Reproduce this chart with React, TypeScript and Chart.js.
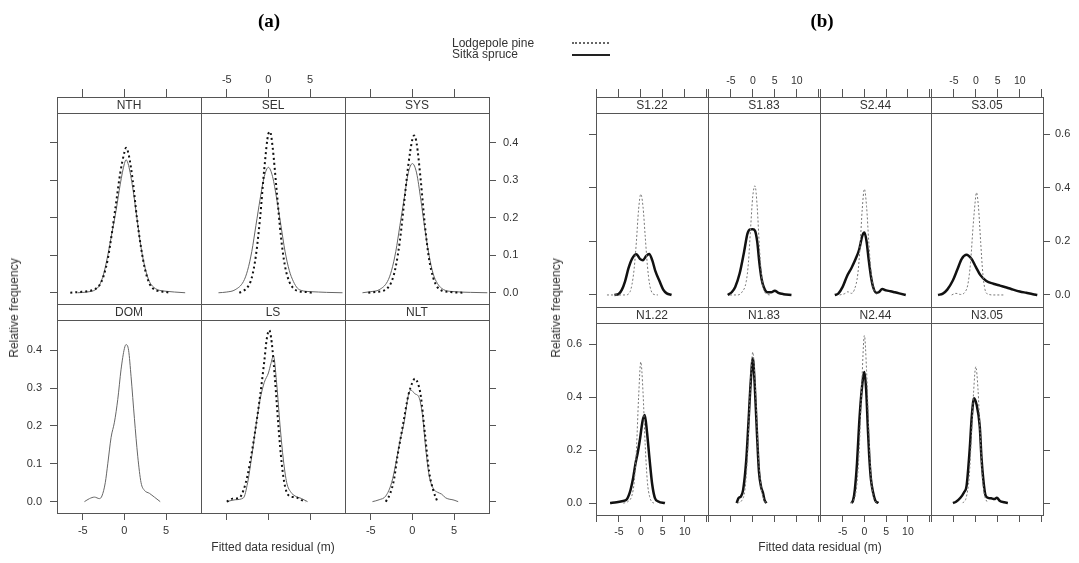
import React, { useEffect, useRef } from 'react';
import { Chart, registerables } from 'chart.js';

Chart.register(...registerables);

type Pt = [number, number];

// ---------------- (a) data: [residual, relative frequency] ----------------
const NTH_LP: Pt[] = [[-6.5,0],[-5.5,0.002],[-4.5,0.004],[-3.5,0.01],[-3,0.02],[-2.5,0.045],[-2,0.09],[-1.5,0.16],[-1,0.24],[-0.5,0.32],[0,0.375],[0.2,0.387],[0.5,0.37],[1,0.3],[1.5,0.2],[2,0.12],[2.5,0.06],[3,0.025],[3.5,0.01],[4,0.005],[5,0.002],[5.5,0]];
const NTH_SS: Pt[] = [[-5.6,0],[-4.5,0.002],[-3.5,0.008],[-3,0.02],[-2.5,0.05],[-2,0.1],[-1.5,0.16],[-1,0.22],[-0.5,0.29],[0,0.345],[0.2,0.355],[0.5,0.34],[1,0.28],[1.5,0.2],[2,0.12],[2.5,0.065],[3,0.03],[3.5,0.015],[4,0.008],[5,0.004],[6,0.002],[7.3,0]];
const SEL_LP: Pt[] = [[-3.5,0],[-3,0.005],[-2.5,0.015],[-2,0.04],[-1.5,0.1],[-1,0.2],[-0.5,0.33],[0,0.425],[0.2,0.43],[0.5,0.39],[1,0.27],[1.5,0.15],[2,0.07],[2.5,0.03],[3,0.012],[3.5,0.005],[4.5,0.002],[5.3,0]];
const SEL_SS: Pt[] = [[-6,0],[-5,0.002],[-4,0.008],[-3,0.03],[-2.5,0.06],[-2,0.11],[-1.5,0.18],[-1,0.25],[-0.5,0.31],[0,0.335],[0.5,0.31],[1,0.25],[1.5,0.18],[2,0.11],[2.5,0.06],[3,0.03],[3.5,0.012],[4,0.006],[5,0.003],[6,0.002],[7,0.001],[8.9,0]];
const SYS_LP: Pt[] = [[-5.3,0],[-4.5,0.002],[-3.5,0.005],[-3,0.012],[-2.5,0.03],[-2,0.07],[-1.5,0.14],[-1,0.24],[-0.5,0.34],[0,0.41],[0.2,0.42],[0.5,0.4],[1,0.3],[1.5,0.18],[2,0.09],[2.5,0.04],[3,0.015],[3.5,0.006],[4.5,0.002],[6.3,0]];
const SYS_SS: Pt[] = [[-6,0],[-5,0.003],[-4,0.008],[-3,0.03],[-2.5,0.06],[-2,0.11],[-1.5,0.18],[-1,0.25],[-0.5,0.32],[0,0.345],[0.5,0.32],[1,0.25],[1.5,0.17],[2,0.1],[2.5,0.05],[3,0.025],[3.5,0.012],[4,0.006],[5,0.003],[7,0.001],[9,0]];
const DOM_SS: Pt[] = [[-4.8,0],[-4.2,0.008],[-3.6,0.012],[-3,0.008],[-2.7,0.015],[-2.3,0.05],[-2,0.1],[-1.6,0.17],[-1.2,0.21],[-0.8,0.27],[-0.4,0.35],[0,0.405],[0.2,0.415],[0.5,0.4],[0.8,0.33],[1.2,0.22],[1.6,0.12],[2,0.05],[2.4,0.03],[3,0.022],[3.6,0.012],[4.3,0]];
const LS_LP: Pt[] = [[-5,0],[-4.3,0.008],[-3.5,0.01],[-3,0.03],[-2.5,0.07],[-2,0.13],[-1.5,0.2],[-1,0.28],[-0.5,0.37],[-0.2,0.43],[0.1,0.453],[0.4,0.42],[0.8,0.32],[1.2,0.2],[1.6,0.1],[2,0.04],[2.5,0.015],[3,0.012],[3.5,0.01],[4,0.004],[4.5,0]];
const LS_SS: Pt[] = [[-5,0],[-4,0.005],[-3,0.01],[-2.5,0.05],[-2,0.12],[-1.5,0.2],[-1,0.27],[-0.5,0.315],[0,0.34],[0.3,0.365],[0.6,0.385],[1,0.31],[1.4,0.2],[1.8,0.11],[2.2,0.05],[2.7,0.025],[3.2,0.015],[4,0.008],[4.7,0]];
const NLT_LP: Pt[] = [[-3.2,0],[-2.7,0.02],[-2.2,0.06],[-1.8,0.12],[-1.4,0.17],[-1,0.22],[-0.5,0.28],[0,0.315],[0.3,0.325],[0.7,0.31],[1,0.28],[1.5,0.18],[2,0.08],[2.5,0.03],[3,0]];
const NLT_SS: Pt[] = [[-4.8,0],[-4,0.005],[-3.2,0.015],[-2.5,0.05],[-2,0.1],[-1.5,0.16],[-1,0.21],[-0.5,0.28],[-0.2,0.295],[0.3,0.285],[0.8,0.275],[1.2,0.23],[1.6,0.14],[2,0.07],[2.5,0.035],[3,0.025],[3.5,0.02],[4,0.01],[5,0.004],[5.5,0]];

// ---------------- (b) data ----------------
const S122_LP: Pt[] = [[-7.7,0],[-3.5,0],[-2.5,0.01],[-2,0.04],[-1.5,0.1],[-1,0.2],[-0.5,0.32],[0,0.377],[0.5,0.33],[1,0.22],[1.5,0.11],[2,0.04],[2.5,0.01],[3,0.002],[3.9,0]];
const S122_SS: Pt[] = [[-6,0],[-5,0.004],[-4.3,0.02],[-3.6,0.05],[-2.8,0.1],[-2,0.135],[-1,0.152],[-0.2,0.135],[0.5,0.13],[1.2,0.145],[1.9,0.153],[2.6,0.13],[3.3,0.09],[4.3,0.05],[5.1,0.02],[5.9,0.006],[7,0]];
const S183_LP: Pt[] = [[-5.2,0],[-3.5,0],[-2.5,0.01],[-1.5,0.05],[-1,0.12],[-0.5,0.25],[0,0.37],[0.5,0.408],[1,0.33],[1.5,0.18],[2,0.07],[2.5,0.02],[3,0.005],[3.9,0]];
const S183_SS: Pt[] = [[-5.7,0],[-4.8,0.01],[-4,0.03],[-3,0.08],[-2,0.16],[-1.2,0.23],[-0.6,0.245],[0,0.246],[0.5,0.24],[1,0.2],[1.5,0.12],[2,0.06],[2.6,0.025],[3.3,0.01],[4.2,0.01],[5,0.016],[5.8,0.008],[7,0.003],[8.8,0]];
const S244_LP: Pt[] = [[-5.7,0],[-4.5,0.005],[-3.8,0.012],[-3,0.006],[-2.3,0.02],[-1.5,0.08],[-1,0.18],[-0.5,0.32],[0,0.396],[0.5,0.33],[1,0.2],[1.5,0.09],[2,0.03],[2.5,0.008],[3,0]];
const S244_SS: Pt[] = [[-6.8,0],[-6,0.005],[-5,0.03],[-4,0.07],[-3,0.1],[-2,0.135],[-1.2,0.17],[-0.5,0.22],[0,0.233],[0.5,0.2],[1,0.13],[1.5,0.07],[2,0.03],[2.7,0.008],[3.3,0.01],[4.1,0.022],[5,0.017],[6,0.014],[7,0.01],[8,0.006],[9.5,0]];
const S305_LP: Pt[] = [[-5.5,0],[-4.5,0.006],[-3.5,0.002],[-2.5,0.01],[-1.8,0.04],[-1.2,0.12],[-0.6,0.26],[0,0.37],[0.15,0.383],[0.6,0.33],[1.1,0.2],[1.6,0.08],[2.1,0.02],[2.8,0.003],[4,0],[6.6,0]];
const S305_SS: Pt[] = [[-8.6,0],[-7.5,0.005],[-6.5,0.02],[-5.2,0.055],[-4.2,0.095],[-3.2,0.135],[-2.1,0.15],[-1,0.135],[0,0.105],[1,0.075],[2.4,0.052],[4,0.042],[5.5,0.035],[7,0.028],[8.5,0.02],[10,0.013],[11.5,0.008],[13,0.003],[14,0]];
const N122_LP: Pt[] = [[-4,0],[-3,0.005],[-2,0.03],[-1.5,0.08],[-1,0.2],[-0.5,0.4],[0,0.533],[0.5,0.42],[1,0.22],[1.5,0.08],[2,0.025],[2.5,0.005],[3,0]];
const N122_SS: Pt[] = [[-7,0],[-5.5,0.003],[-4,0.008],[-3.3,0.012],[-2.5,0.04],[-1.8,0.09],[-1.2,0.15],[-0.7,0.19],[-0.2,0.24],[0.4,0.31],[0.9,0.333],[1.4,0.27],[2,0.165],[2.6,0.07],[3.2,0.02],[4,0.006],[5.5,0]];
const N183_LP: Pt[] = [[-3.5,0],[-2.5,0.01],[-1.8,0.05],[-1.2,0.18],[-0.6,0.42],[0,0.57],[0.6,0.43],[1.2,0.2],[1.8,0.07],[2.4,0.02],[3,0]];
const N183_SS: Pt[] = [[-3.7,0],[-3.2,0.02],[-2.7,0.025],[-2.2,0.05],[-1.5,0.16],[-1,0.3],[-0.5,0.45],[0,0.547],[0.4,0.46],[0.9,0.28],[1.4,0.12],[1.9,0.06],[2.3,0.04],[2.7,0.01],[3.1,0]];
const N244_LP: Pt[] = [[-3.2,0],[-2.5,0.01],[-1.8,0.06],[-1.2,0.2],[-0.6,0.45],[0,0.633],[0.5,0.5],[1,0.28],[1.5,0.1],[2,0.03],[2.6,0.005],[3.2,0]];
const N244_SS: Pt[] = [[-3,0],[-2.6,0.01],[-2.2,0.05],[-1.7,0.15],[-1.2,0.3],[-0.6,0.43],[0,0.495],[0.4,0.43],[0.8,0.28],[1.1,0.18],[1.5,0.09],[2,0.04],[2.5,0.01],[3.2,0]];
const N305_LP: Pt[] = [[-3,0],[-2.2,0.02],[-1.5,0.1],[-1,0.25],[-0.5,0.42],[0,0.515],[0.5,0.43],[1,0.26],[1.5,0.1],[2,0.03],[2.7,0]];
const N305_SS: Pt[] = [[-5.2,0],[-4.5,0.005],[-3.5,0.02],[-2.7,0.04],[-2.1,0.065],[-1.4,0.2],[-0.9,0.33],[-0.4,0.396],[0.2,0.37],[0.9,0.29],[1.3,0.17],[1.7,0.09],[2.2,0.03],[2.8,0.02],[3.5,0.018],[4.2,0.015],[4.8,0.02],[5.5,0.008],[6.5,0.003],[7.3,0]];

// ---------------- scales / tick labels ----------------
const A_X_RANGE = [-8.1, 9.2];
const A_Y_RANGE = [-0.03, 0.48];
const A_X_STEP = 5;
const A_Y_STEP = 0.1;
const A_X_LABELS = [-5, 0, 5];
const B_X_RANGE = [-10.2, 15.3];
const B_Y_RANGE = [-0.045, 0.68];
const B_X_STEP = 5;
const B_Y_STEP = 0.2;
const B_X_LABELS = [-5, 0, 5, 10];

const SERIES_NAMES = ['Lodgepole pine', 'Sitka spruce'];

// ---------------- layout ----------------
const W = 1079;
const H = 563;
const STRIP = 16;
const A_COLS = [57, 201, 345, 489];
const A_ROWS = [[113, 304], [320, 513]];
const B_COLS = [596, 708, 820, 931, 1043];
const B_ROWS = [[113, 307], [323, 515]];
const FONT = '"Liberation Sans", Arial, Helvetica, sans-serif';
const TEXT = '#333';
const LINE = '#555';

type Side = 'top' | 'bottom' | 'left' | 'right' | null;
interface Panel {
  name: string;
  lp: Pt[] | null;
  ss: Pt[];
  fig: 'a' | 'b';
  col: number;
  row: number;
  xAxis: Side;
  xLab: boolean;
  yAxis: Side;
  yLab: boolean;
}

const PANELS: Panel[] = [
  { name: 'NTH', lp: NTH_LP, ss: NTH_SS, fig: 'a', col: 0, row: 0, xAxis: 'top', xLab: false, yAxis: 'left', yLab: false },
  { name: 'SEL', lp: SEL_LP, ss: SEL_SS, fig: 'a', col: 1, row: 0, xAxis: 'top', xLab: true, yAxis: null, yLab: false },
  { name: 'SYS', lp: SYS_LP, ss: SYS_SS, fig: 'a', col: 2, row: 0, xAxis: 'top', xLab: false, yAxis: 'right', yLab: true },
  { name: 'DOM', lp: null, ss: DOM_SS, fig: 'a', col: 0, row: 1, xAxis: 'bottom', xLab: true, yAxis: 'left', yLab: true },
  { name: 'LS', lp: LS_LP, ss: LS_SS, fig: 'a', col: 1, row: 1, xAxis: 'bottom', xLab: false, yAxis: null, yLab: false },
  { name: 'NLT', lp: NLT_LP, ss: NLT_SS, fig: 'a', col: 2, row: 1, xAxis: 'bottom', xLab: true, yAxis: 'right', yLab: false },
  { name: 'S1.22', lp: S122_LP, ss: S122_SS, fig: 'b', col: 0, row: 0, xAxis: 'top', xLab: false, yAxis: 'left', yLab: false },
  { name: 'S1.83', lp: S183_LP, ss: S183_SS, fig: 'b', col: 1, row: 0, xAxis: 'top', xLab: true, yAxis: null, yLab: false },
  { name: 'S2.44', lp: S244_LP, ss: S244_SS, fig: 'b', col: 2, row: 0, xAxis: 'top', xLab: false, yAxis: null, yLab: false },
  { name: 'S3.05', lp: S305_LP, ss: S305_SS, fig: 'b', col: 3, row: 0, xAxis: 'top', xLab: true, yAxis: 'right', yLab: true },
  { name: 'N1.22', lp: N122_LP, ss: N122_SS, fig: 'b', col: 0, row: 1, xAxis: 'bottom', xLab: true, yAxis: 'left', yLab: true },
  { name: 'N1.83', lp: N183_LP, ss: N183_SS, fig: 'b', col: 1, row: 1, xAxis: 'bottom', xLab: false, yAxis: null, yLab: false },
  { name: 'N2.44', lp: N244_LP, ss: N244_SS, fig: 'b', col: 2, row: 1, xAxis: 'bottom', xLab: true, yAxis: null, yLab: false },
  { name: 'N3.05', lp: N305_LP, ss: N305_SS, fig: 'b', col: 3, row: 1, xAxis: 'bottom', xLab: false, yAxis: 'right', yLab: false },
];

const AX_TOP = 44;
const AX_BOTTOM = 34;
const AX_SIDE = 44;

function makeChart(canvas: HTMLCanvasElement, p: Panel) {
  const isA = p.fig === 'a';
  const cols = isA ? A_COLS : B_COLS;
  const rows = isA ? A_ROWS : B_ROWS;
  const left = cols[p.col];
  const right = cols[p.col + 1];
  const top = rows[p.row][0];
  const bottom = rows[p.row][1];
  const xr = isA ? A_X_RANGE : B_X_RANGE;
  const yr = isA ? A_Y_RANGE : B_Y_RANGE;
  const xLabels = isA ? A_X_LABELS : B_X_LABELS;

  const lpStyle = isA
    ? { borderColor: '#111', borderWidth: 2, borderDash: [2, 3] }
    : { borderColor: '#777', borderWidth: 1, borderDash: [2, 2] };
  const ssStyle = isA
    ? { borderColor: '#666', borderWidth: 1 }
    : { borderColor: '#111', borderWidth: 2.5 };

  const datasets: any[] = [];
  if (p.lp) {
    datasets.push({ label: SERIES_NAMES[0], data: p.lp.map(([x, y]) => ({ x, y })), ...lpStyle, cubicInterpolationMode: 'monotone', pointRadius: 0, fill: false });
  }
  datasets.push({ label: SERIES_NAMES[1], data: p.ss.map(([x, y]) => ({ x, y })), ...ssStyle, cubicInterpolationMode: 'monotone', pointRadius: 0, fill: false });

  const padding = {
    left: left - (p.yAxis === 'left' ? AX_SIDE : 0),
    right: W - right - (p.yAxis === 'right' ? AX_SIDE : 0),
    top: top - (p.xAxis === 'top' ? AX_TOP : 0),
    bottom: H - bottom - (p.xAxis === 'bottom' ? AX_BOTTOM : 0),
  };

  const xTickFont = { family: FONT, size: isA ? 11 : 10.5 };
  const yTickFont = { family: FONT, size: 11 };

  const stripPlugin = {
    id: 'strip' + p.name,
    afterDraw(chart: any) {
      const { ctx, chartArea: a } = chart;
      ctx.save();
      ctx.fillStyle = '#fff';
      ctx.fillRect(a.left, a.top - STRIP, a.right - a.left, STRIP);
      ctx.strokeStyle = LINE;
      ctx.lineWidth = 1;
      ctx.strokeRect(Math.round(a.left) + 0.5, Math.round(a.top - STRIP) + 0.5, Math.round(a.right - a.left), STRIP);
      ctx.strokeRect(Math.round(a.left) + 0.5, Math.round(a.top) + 0.5, Math.round(a.right - a.left), Math.round(a.bottom - a.top));
      ctx.fillStyle = TEXT;
      ctx.font = `12px ${FONT}`;
      ctx.textAlign = 'center';
      ctx.textBaseline = 'middle';
      ctx.fillText(p.name, (a.left + a.right) / 2, a.top - STRIP / 2 + 0.5);
      ctx.restore();
    },
  };

  return new Chart(canvas, {
    type: 'line',
    data: { datasets },
    options: {
      responsive: false,
      animation: false,
      events: [],
      layout: { padding },
      plugins: { legend: { display: false }, tooltip: { enabled: false }, title: { display: false } },
      scales: {
        x: {
          type: 'linear',
          min: xr[0],
          max: xr[1],
          display: p.xAxis !== null,
          position: p.xAxis === 'top' ? 'top' : 'bottom',
          grid: { drawOnChartArea: false, drawTicks: true, tickLength: p.xAxis === 'top' ? STRIP + 8 : 7, color: LINE, lineWidth: 1 },
          border: { display: false },
          ticks: {
            display: p.xLab,
            stepSize: isA ? A_X_STEP : B_X_STEP,
            includeBounds: false,
            autoSkip: false,
            maxRotation: 0,
            minRotation: 0,
            padding: p.xAxis === 'top' ? 2 : 4,
            font: xTickFont,
            color: TEXT,
            callback: (v: any) => (xLabels.includes(Math.round(Number(v) * 1000) / 1000) ? String(v) : ''),
          },
          afterFit: (s: any) => { s.height = p.xAxis === null ? 0 : p.xAxis === 'top' ? AX_TOP : AX_BOTTOM; },
        },
        y: {
          type: 'linear',
          min: yr[0],
          max: yr[1],
          display: p.yAxis !== null,
          position: p.yAxis === 'right' ? 'right' : 'left',
          grid: { drawOnChartArea: false, drawTicks: true, tickLength: 7, color: LINE, lineWidth: 1 },
          border: { display: false },
          ticks: {
            display: p.yLab,
            stepSize: isA ? A_Y_STEP : B_Y_STEP,
            includeBounds: false,
            autoSkip: false,
            padding: p.yAxis === 'right' ? (isA ? 7 : 5) : (isA ? 8 : 7),
            font: yTickFont,
            color: TEXT,
            callback: (v: any) => Number(v).toFixed(1),
          },
          afterFit: (s: any) => { s.width = p.yAxis === null ? 0 : AX_SIDE; },
        },
      },
    } as any,
    plugins: [stripPlugin],
  });
}

const sans = FONT;
const serif = '"Liberation Serif", "Times New Roman", serif';

function Text(props: { x: number; y: number; text: string; size: number; bold?: boolean; serifFont?: boolean; rotate?: boolean; anchor?: 'center' | 'left' }) {
  const { x, y, text, size, bold, serifFont, rotate, anchor } = props;
  const tx = anchor === 'left' ? '0' : '-50%';
  return (
    <div
      style={{
        position: 'absolute',
        left: x,
        top: y,
        transform: `translate(${tx}, -50%)${rotate ? ' rotate(-90deg)' : ''}`,
        fontSize: size,
        fontWeight: bold ? 'bold' : 'normal',
        fontFamily: serifFont ? serif : sans,
        whiteSpace: 'nowrap',
        lineHeight: 1,
        color: serifFont ? '#000' : TEXT,
      }}
    >
      {text}
    </div>
  );
}

export default function App() {
  const refs = useRef<(HTMLCanvasElement | null)[]>([]);

  useEffect(() => {
    const charts = PANELS.map((p, i) => makeChart(refs.current[i] as HTMLCanvasElement, p));
    return () => charts.forEach((c) => c.destroy());
  }, []);

  return (
    <div style={{ position: 'absolute', left: 0, top: 0, width: W, height: H, background: '#fff', overflow: 'hidden' }}>
      {PANELS.map((p, i) => (
        <canvas
          key={p.name}
          ref={(el) => { refs.current[i] = el; }}
          width={W}
          height={H}
          style={{ position: 'absolute', left: 0, top: 0, width: W, height: H }}
        />
      ))}
      <Text x={269} y={20} text="(a)" size={19} bold serifFont />
      <Text x={822} y={20} text="(b)" size={19} bold serifFont />
      <Text x={452} y={43} text={SERIES_NAMES[0]} size={12} anchor="left" />
      <Text x={452} y={54} text={SERIES_NAMES[1]} size={12} anchor="left" />
      <div style={{ position: 'absolute', left: 572, top: 42, width: 37, height: 0, borderTop: '2px dotted #666' }} />
      <div style={{ position: 'absolute', left: 572, top: 54, width: 38, height: 0, borderTop: '2.5px solid #222' }} />
      <Text x={14} y={308} text="Relative frequency" size={12} rotate />
      <Text x={556} y={308} text="Relative frequency" size={12} rotate />
      <Text x={273} y={547} text="Fitted data residual (m)" size={12} />
      <Text x={820} y={547} text="Fitted data residual (m)" size={12} />
    </div>
  );
}
